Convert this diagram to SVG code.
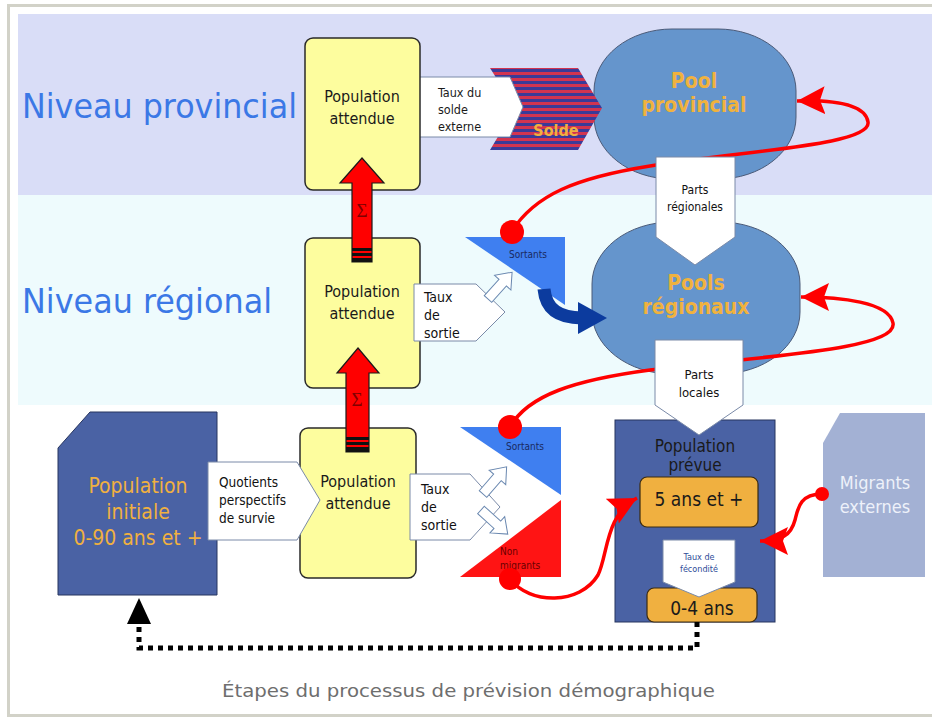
<svg xmlns="http://www.w3.org/2000/svg" width="932" height="719" viewBox="0 0 932 719">
  <style>
    .lbl { font-family: "DejaVu Sans Condensed", "DejaVu Sans", sans-serif; }
    .yellow { fill: #fdfd9e; stroke: #2a2a2a; stroke-width: 1.5; }
    .pool { fill: #6595cc; stroke: #4a5a78; stroke-width: 1; }
    .pent { fill: #ffffff; stroke: #7a8aa8; stroke-width: 1; }
    .hollow { fill: #ffffff; stroke: #6a88b0; stroke-width: 1; }
    .sigma { fill: #ff0000; stroke: #1a1a1a; stroke-width: 1.2; }
    .curve { fill: none; stroke: #ff0000; stroke-width: 3.5; }
    .darkbox { fill: #4a62a4; stroke: #26345e; stroke-width: 1; }
    .orange { fill: #f0b040; stroke: #3a2a10; stroke-width: 1.2; }
    .pooltxt { fill: #f0b23e; font-weight: bold; font-size: 21px; text-anchor: middle; }
    .pa { font-size: 16px; fill: #1a1a1a; text-anchor: middle; }
  </style>
  <defs>
    <pattern id="stripes" width="8" height="6" patternUnits="userSpaceOnUse">
      <rect width="8" height="6" fill="#3b3a98"/>
      <rect width="8" height="3" fill="#d23450"/>
    </pattern>
    <marker id="redhead" markerUnits="userSpaceOnUse" markerWidth="32" markerHeight="30" refX="28" refY="14" orient="auto">
      <path d="M0,0 L28,14 L0,28 L5,14 z" fill="#ff0000"/>
    </marker>
    <polygon id="hollowArrow" points="0,-5 22,-5 22,-11 36,0 22,11 22,5 0,5"/>
  </defs>

  <!-- frame and level bands -->
  <rect x="8.5" y="5.5" width="930" height="710" fill="#ffffff" stroke="#d2d2c8" stroke-width="3"/>
  <rect x="18" y="14" width="914" height="181" fill="#d9ddf7"/>
  <rect x="18" y="195" width="914" height="210" fill="#eefbfd"/>

  <text class="lbl" x="22" y="118" font-size="34" fill="#3b78e6" textLength="275" lengthAdjust="spacingAndGlyphs">Niveau provincial</text>
  <text class="lbl" x="22" y="313" font-size="34" fill="#3b78e6" textLength="250" lengthAdjust="spacingAndGlyphs">Niveau régional</text>

  <!-- provincial level -->
  <g id="pool-provincial">
    <rect class="pool" x="594" y="29" width="202" height="150" rx="78" ry="62"/>
    <text class="lbl pooltxt" x="694" y="88">Pool</text>
    <text class="lbl pooltxt" x="694" y="112">provincial</text>
  </g>

  <g id="solde">
    <polygon points="490,68 578,68 602,108 578,150 490,150 515,108" fill="url(#stripes)"/>
    <text class="lbl" x="556" y="136" font-size="16" font-weight="bold" fill="#f0b040" text-anchor="middle">Solde</text>
  </g>
  <g id="taux-solde">
    <polygon class="pent" points="412,77 510,77 523,107 510,137 412,137"/>
    <text class="lbl" font-size="12.5" fill="#1a1a1a"><tspan x="438" y="97">Taux du</tspan><tspan x="438" y="114">solde</tspan><tspan x="438" y="131">externe</tspan></text>
  </g>

  <g id="pop-provinciale">
    <rect class="yellow" x="305" y="38" width="115" height="152" rx="8"/>
    <text class="lbl pa" x="362" y="102">Population</text>
    <text class="lbl pa" x="362" y="124">attendue</text>
  </g>

  <!-- regional level -->
  <g id="pools-regionaux">
    <rect class="pool" x="592" y="222" width="208" height="152" rx="80" ry="62"/>
    <text class="lbl pooltxt" x="696" y="290">Pools</text>
    <text class="lbl pooltxt" x="696" y="314">régionaux</text>
  </g>

  <g id="pop-regionale">
    <rect class="yellow" x="305" y="238" width="115" height="150" rx="8"/>
    <text class="lbl pa" x="362" y="297">Population</text>
    <text class="lbl pa" x="362" y="319">attendue</text>
  </g>

  <g id="sortants-regional">
    <polygon points="465,237 565,237 565,305" fill="#3f7ff0"/>
    <text class="lbl" x="528" y="258" font-size="10" fill="#1a2a60" text-anchor="middle">Sortants</text>
    <circle cx="512" cy="232" r="12" fill="#ff0000"/>
  </g>
  <g id="taux-sortie-regional">
    <polygon class="pent" points="414,284 476,284 505,312 476,341 414,341"/>
    <use href="#hollowArrow" class="hollow" transform="translate(488,299) rotate(-48)"/>
    <text class="lbl" font-size="14" fill="#111"><tspan x="424" y="302">Taux</tspan><tspan x="424" y="320">de</tspan><tspan x="424" y="338">sortie</tspan></text>
  </g>

  <!-- local level -->
  <g id="pop-initiale">
    <polygon class="darkbox" points="90,412 217,412 217,595 58,595 58,448"/>
    <text class="lbl" font-size="21" fill="#f0b040" text-anchor="middle"><tspan x="138" y="493">Population</tspan><tspan x="138" y="519">initiale</tspan><tspan x="138" y="545">0-90 ans et +</tspan></text>
  </g>

  <g id="pop-locale">
    <rect class="yellow" x="300" y="428" width="116" height="150" rx="8"/>
    <text class="lbl pa" x="358" y="487">Population</text>
    <text class="lbl pa" x="358" y="509">attendue</text>
  </g>

  <g id="quotients">
    <polygon class="pent" points="208,462 297,462 320,500 297,540 208,540"/>
    <text class="lbl" font-size="13.5" fill="#111"><tspan x="219" y="487">Quotients</tspan><tspan x="219" y="505">perspectifs</tspan><tspan x="219" y="523">de survie</tspan></text>
  </g>

  <g id="sortants-local">
    <polygon points="460,427 561,427 561,495" fill="#3f7ff0"/>
    <text class="lbl" x="525" y="450" font-size="10" fill="#1a2a60" text-anchor="middle">Sortants</text>
    <circle cx="510" cy="427" r="12" fill="#ff0000"/>
  </g>
  <g id="non-migrants">
    <polygon points="561,500 561,577 460,577" fill="#ff1414"/>
    <text class="lbl" font-size="10" fill="#6a0000"><tspan x="500" y="555">Non</tspan><tspan x="500" y="569">migrants</tspan></text>
    <circle cx="510" cy="579" r="11" fill="#ff0000"/>
  </g>
  <g id="taux-sortie-local">
    <polygon class="pent" points="410,474 470,474 500,507 470,540 410,540"/>
    <use href="#hollowArrow" class="hollow" transform="translate(483,494) rotate(-49)"/>
    <use href="#hollowArrow" class="hollow" transform="translate(481,510) rotate(42)"/>
    <text class="lbl" font-size="14" fill="#111"><tspan x="421" y="494">Taux</tspan><tspan x="421" y="512">de</tspan><tspan x="421" y="530">sortie</tspan></text>
  </g>

  <g id="pop-prevue">
    <rect class="darkbox" x="615" y="420" width="160" height="202"/>
    <text class="lbl" font-size="17" fill="#1a1a1a" text-anchor="middle"><tspan x="695" y="452">Population</tspan><tspan x="695" y="471">prévue</tspan></text>
    <rect class="orange" x="640" y="477" width="118" height="50" rx="7"/>
    <text class="lbl" x="699" y="506" font-size="19" fill="#1a1a1a" text-anchor="middle">5 ans et +</text>
    <rect class="orange" x="647" y="588" width="110" height="34" rx="7"/>
    <text class="lbl" x="702" y="615" font-size="19" fill="#1a1a1a" text-anchor="middle">0-4 ans</text>
    <polygon class="pent" points="663,540 735,540 735,582 699,597 663,582"/>
    <text class="lbl" font-size="9" fill="#2e4c98" text-anchor="middle"><tspan x="699" y="560">Taux de</tspan><tspan x="699" y="572">fécondité</tspan></text>
  </g>

  <g id="migrants-externes">
    <polygon points="840,413 925,413 925,577 823,577 823,443" fill="#a3b1d4"/>
    <text class="lbl" font-size="18" fill="#eef1fa" text-anchor="middle"><tspan x="875" y="489">Migrants</tspan><tspan x="875" y="513">externes</tspan></text>
    <circle cx="822" cy="494" r="7" fill="#ff0000"/>
  </g>

  <!-- flows between the steps -->
  <g id="connectors">
    <path class="curve" d="M512,231 C535,195 575,178 650,166 C750,150 872,145 868,122 C865,103 830,100 797,101" marker-end="url(#redhead)"/>
    <path class="curve" d="M510,427 C528,395 575,380 650,370 C760,356 898,350 893,323 C889,302 840,297 801,297" marker-end="url(#redhead)"/>
    <path class="curve" d="M510,579 C530,605 580,605 598,575 C608,555 605,515 637,498" marker-end="url(#redhead)"/>
    <path class="curve" d="M822,494 C800,494 798,508 795,520 C791,535 782,541 760,541" marker-end="url(#redhead)"/>
    <path d="M697,622 V648 H139 V620" fill="none" stroke="#000" stroke-width="5" stroke-dasharray="5,5"/>
    <polygon points="139,598 151,624 127,624" fill="#000"/>
    <path d="M544,289 C546,310 560,318 582,318" fill="none" stroke="#0c3b9e" stroke-width="13"/>
    <polygon points="578,302 607,318 578,334" fill="#0c3b9e"/>
  </g>

  <!-- share arrows out of the pools -->
  <g id="parts-regionales">
    <polygon class="pent" points="656,157 735,157 735,237 695,265 656,237"/>
    <text class="lbl" font-size="12" fill="#111" text-anchor="middle"><tspan x="695" y="194">Parts</tspan><tspan x="695" y="211">régionales</tspan></text>
  </g>
  <g id="parts-locales">
    <polygon class="pent" points="655,340 743,340 743,405 699,435 655,405"/>
    <text class="lbl" font-size="13" fill="#111" text-anchor="middle"><tspan x="699" y="379">Parts</tspan><tspan x="699" y="397">locales</tspan></text>
  </g>

  <!-- summation arrows -->
  <g id="sum-to-province">
    <polygon class="sigma" points="362,158 384,183 372,183 372,262 352,262 352,183 340,183"/>
    <rect x="352" y="248" width="20" height="3" fill="#111"/>
    <rect x="352" y="253" width="20" height="3" fill="#111"/>
    <rect x="352" y="258" width="20" height="4" fill="#111"/>
    <text x="362" y="217" font-family="'Liberation Serif', serif" font-size="19" fill="#800000" text-anchor="middle">Σ</text>
  </g>
  <g id="sum-to-region">
    <polygon class="sigma" points="358,348 379,373 369,373 369,452 346,452 346,373 337,373"/>
    <rect x="346" y="437" width="23" height="3" fill="#111"/>
    <rect x="346" y="442" width="23" height="3" fill="#111"/>
    <rect x="346" y="447" width="23" height="5" fill="#111"/>
    <text x="357" y="406" font-family="'Liberation Serif', serif" font-size="19" fill="#800000" text-anchor="middle">Σ</text>
  </g>

  <text class="lbl" x="222" y="697" font-size="17" fill="#6e6e6e" textLength="493" lengthAdjust="spacingAndGlyphs">Étapes du processus de prévision démographique</text>
</svg>
